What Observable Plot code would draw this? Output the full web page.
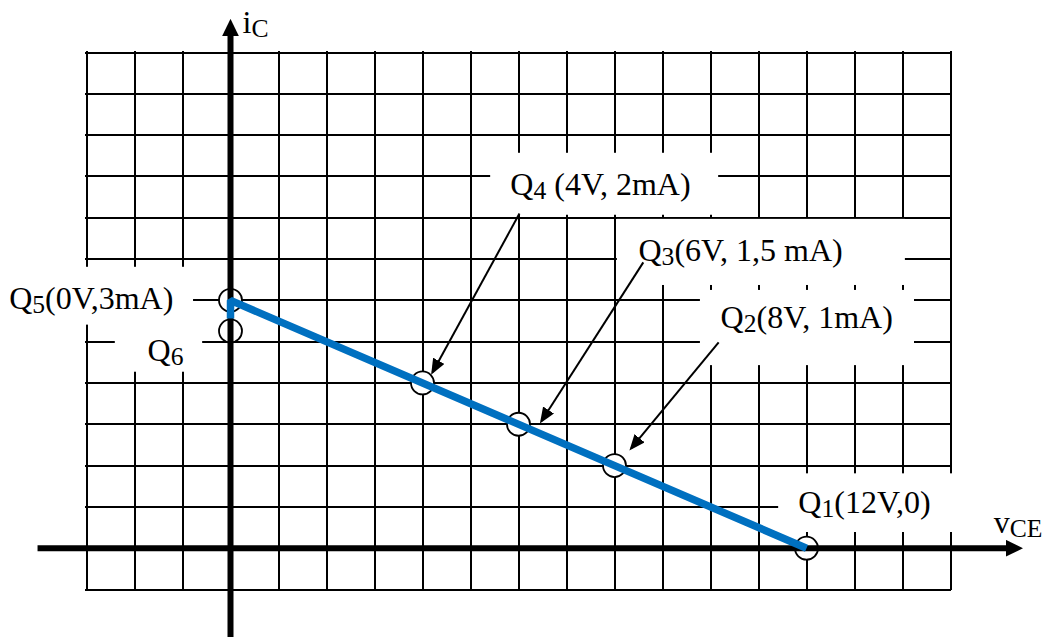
<!DOCTYPE html>
<html>
<head>
<meta charset="utf-8">
<script src="https://cdn.jsdelivr.net/npm/d3@7"></script>
<script src="https://cdn.jsdelivr.net/npm/@observablehq/plot@0.6"></script>
<style>
  body { margin: 0; background: #fff; }
  #chart svg { display: block; }
</style>
</head>
<body>
<div id="chart"></div>
<script>
// Operating points on the DC load line (v_CE in volts, i_C in mA)
const pointNames  = ["Q1", "Q2", "Q3", "Q4", "Q5", "Q6"];
const vce         = [12, 8, 6, 4, 0, 0];
const ic          = [0, 1, 1.5, 2, 3, 2.63];
const pointLabels = ["Q_1(12V,0)", "Q_2(8V, 1mA)", "Q_3(6V, 1,5 mA)", "Q_4 (4V, 2mA)", "Q_5(0V,3mA)", "Q_6"];

// Load line: short drop along the i_C axis, then Q5 straight down to Q1
const loadLineV = [0, 0, 12];
const loadLineI = [2.78, 3, 0];

// Graph paper: one volt per column, half a milliamp per row
const gridV = [-3, -2, -1, 0, 1, 2, 3, 4, 5, 6, 7, 8, 9, 10, 11, 12, 13, 14, 15];
const gridI = [-0.5, 0, 0.5, 1, 1.5, 2, 2.5, 3, 3.5, 4, 4.5, 5, 5.5, 6];

// Axis names
const axisNames = ["i_C", "v_CE"];

// ---- layout (data units) ----
// label anchor, text-anchor and the white box behind each label [x1, x2, y1, y2]
const labelPos = [
  {x: 11.83, y: 0.42, anchor: "start", box: [11.42, 15.3, 0.19, 0.9]},
  {x: 10.21, y: 2.66, anchor: "start", box: [9.79, 14.25, 2.21, 3.12]},
  {x: 8.5,   y: 3.48, anchor: "start", box: [8.06, 14.06, 3.18, 3.98]},
  {x: 5.83,  y: 4.27, anchor: "start", box: [5.42, 10.17, 4.03, 4.78]},
  {x: -1.19, y: 2.9,  anchor: "end",   box: [-4.79, -0.77, 2.7, 3.4]},
  {x: -0.98, y: 2.27, anchor: "end",   box: [-2.4, -0.58, 2.13, 2.76]}
];
// callout arrows, label side -> point side
const callouts = [
  {name: "Q2", x1: 10.17, y1: 2.49, x2: 8.35, y2: 1.21},
  {name: "Q3", x1: 8.6,   y1: 3.46, x2: 6.48, y2: 1.54},
  {name: "Q4", x1: 6.02,  y1: 4.05, x2: 4.21, y2: 2.13}
];
const axisLines = [
  {x1: -4.02, y1: 0, x2: 16.19, y2: 0},
  {x1: 0, y1: -1.1, x2: 0, y2: 6.22}
];
const axisNamePos = [
  {x: 0.25, y: 6.23},
  {x: 15.9, y: 0.18}
];

const points = pointNames.map((name, k) => ({
  name, v: vce[k], i: ic[k], label: pointLabels[k], ...labelPos[k]
}));
const loadLine = loadLineV.map((v, k) => ({v, i: loadLineI[k]}));
const boxes = points.map(p => ({x1: p.box[0], x2: p.box[1], y1: p.box[2], y2: p.box[3]}));
const axisTexts = axisNames.map((t, k) => ({text: t, ...axisNamePos[k]}));

// Filled triangular arrowhead (length and half-width in px); refX sets where the line ends
const svgNS = "http://www.w3.org/2000/svg";
function filledHead(len, half, refX) {
  return (color) => {
    const m = document.createElementNS(svgNS, "marker");
    m.setAttribute("viewBox", `0 ${-half} ${len} ${2 * half}`);
    m.setAttribute("markerUnits", "userSpaceOnUse");
    m.setAttribute("markerWidth", len);
    m.setAttribute("markerHeight", 2 * half);
    m.setAttribute("refX", refX);
    m.setAttribute("refY", 0);
    m.setAttribute("orient", "auto");
    const p = document.createElementNS(svgNS, "path");
    p.setAttribute("d", `M0,${-half}L${len},0L0,${half}Z`);
    p.setAttribute("fill", color);
    p.setAttribute("stroke", "none");
    m.appendChild(p);
    return m;
  };
}

const FONT = "Liberation Serif, Times New Roman, serif";
const FS = 32;

const chart = Plot.plot({
  width: 1043,
  height: 637,
  marginLeft: 86,
  marginRight: 93,
  marginTop: 52,
  marginBottom: 48,
  x: {domain: [-3, 15], axis: null},
  y: {domain: [-0.5, 6], axis: null},
  style: {background: "white", overflow: "visible"},
  marks: [
    Plot.ruleX(gridV, {x: d => d, y1: -0.5, y2: 6, stroke: "black", strokeWidth: 2,
      strokeLinecap: "square", shapeRendering: "crispEdges"}),
    Plot.ruleY(gridI, {y: d => d, x1: -3, x2: 15, stroke: "black", strokeWidth: 2,
      strokeLinecap: "square", shapeRendering: "crispEdges"}),
    Plot.rect(boxes, {x1: "x1", x2: "x2", y1: "y1", y2: "y2", fill: "white"}),
    Plot.dot(points, {x: "v", y: "i", r: 11.5, fill: "white", stroke: "black", strokeWidth: 1.8}),
    Plot.link(axisLines, {x1: "x1", y1: "y1", x2: "x2", y2: "y2", stroke: "black", strokeWidth: 6,
      markerEnd: filledHead(17.5, 8.5, 2)}),
    Plot.line(loadLine, {x: "v", y: "i", stroke: "#0070C0", strokeWidth: 7.5,
      strokeLinejoin: "miter", strokeLinecap: "butt"}),
    Plot.link(callouts, {x1: "x1", y1: "y1", x2: "x2", y2: "y2", stroke: "black", strokeWidth: 2,
      markerEnd: filledHead(16, 6.5, 13)}),
    Plot.text(points.filter(p => p.anchor === "start"), {x: "x", y: "y", text: "label",
      textAnchor: "start", lineAnchor: "bottom", fontFamily: FONT, fontSize: FS, fill: "black"}),
    Plot.text(points.filter(p => p.anchor === "end"), {x: "x", y: "y", text: "label",
      textAnchor: "end", lineAnchor: "bottom", fontFamily: FONT, fontSize: FS, fill: "black"}),
    Plot.text(axisTexts, {x: "x", y: "y", text: "text",
      textAnchor: "start", lineAnchor: "bottom", fontFamily: FONT, fontSize: FS, fill: "black"})
  ]
});

// Turn "_X" runs into lowered, smaller subscripts
const SUB_DY = 4;
for (const t of chart.querySelectorAll("text")) {
  const s = t.textContent;
  if (!s.includes("_")) continue;
  const parts = s.split(/_([0-9A-Z]+)/);
  t.textContent = "";
  let lowered = false;
  parts.forEach((part, k) => {
    if (!part) return;
    const span = document.createElementNS(svgNS, "tspan");
    span.textContent = part;
    if (k % 2 === 1) {
      span.setAttribute("font-size", "0.8em");
      if (!lowered) span.setAttribute("dy", SUB_DY);
      lowered = true;
    } else if (lowered) {
      span.setAttribute("dy", -SUB_DY);
      lowered = false;
    }
    t.appendChild(span);
  });
}

document.getElementById("chart").appendChild(chart);
</script>
</body>
</html>
